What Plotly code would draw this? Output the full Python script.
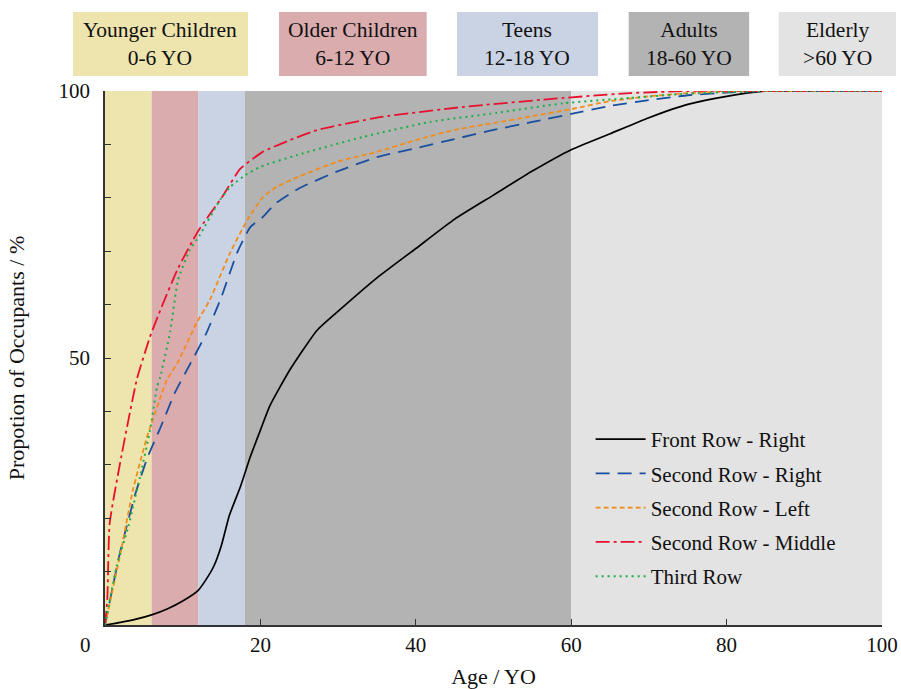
import plotly.graph_objects as go

# ---- data ----
age_front = [0, 2, 4, 6, 8, 10, 12, 13, 14, 15, 16, 17.4, 18.7, 20, 21.2, 23.8, 27.3, 30.2, 35, 40, 45, 50, 55, 60, 65, 70, 75, 80, 85, 90, 100]
val_front = [0, 0.5, 1.1, 1.9, 3, 4.5, 6.5, 8.5, 11, 15, 20.5, 25.8, 31.5, 36.5, 41, 47.8, 55.2, 59, 65, 70.5, 76, 80.5, 85, 89, 92, 95, 97.5, 99, 100, 100, 100]

age_2r = [0, 2, 4, 5.5, 7, 9, 11, 13, 15, 17, 18.7, 20.3, 22, 25, 30, 35, 40, 45, 50, 55, 60, 65, 70, 75, 80, 85, 90, 100]
val_2r = [0, 14, 25, 31.5, 36.5, 43.5, 49, 54.5, 61.5, 69.7, 74.5, 76.4, 79, 81.8, 85, 87.6, 89.3, 91, 92.7, 94.2, 95.7, 97.2, 98.3, 99.2, 99.7, 100, 100, 100]

age_2l = [0, 2, 3.6, 5.4, 6, 8, 9.3, 11.8, 13.5, 16.1, 18.3, 20.3, 22, 25, 30, 35, 40, 45, 50, 55, 60, 65, 70, 75, 80, 85, 90, 100]
val_2l = [0, 13.5, 25.3, 35.2, 37.8, 46, 49, 56.6, 60.9, 69.7, 75.8, 80.1, 82, 84, 86.8, 88.6, 90.8, 92.7, 94, 95.3, 96.6, 98.1, 99, 99.6, 99.9, 100, 100, 100]

age_2m = [0, 0.3, 0.6, 1.9, 4.1, 5.8, 7.3, 9.3, 12, 15, 17.4, 20.3, 23.8, 27.3, 35.4, 46, 59, 67.6, 75, 85, 100]
val_2m = [0, 5, 19, 30, 46, 54, 59.6, 66.5, 73.8, 80, 85.4, 88.6, 90.8, 92.7, 95.1, 97, 98.7, 99.6, 100, 100, 100]

age_3 = [0, 1.5, 3, 4.5, 5.8, 6.7, 7.1, 8.4, 9.4, 10.9, 12.2, 14.8, 16.1, 18, 20, 24.7, 33.2, 41.8, 50.4, 59, 67.6, 75, 85, 100]
val_3 = [0, 11, 18.4, 27.7, 36.5, 44.6, 46.4, 55, 64.6, 70.2, 73, 79.6, 82, 84.2, 85.8, 88, 91.4, 94.2, 95.9, 97.7, 98.7, 99.5, 100, 100]

series_names = ["Front Row - Right", "Second Row - Right", "Second Row - Left", "Second Row - Middle", "Third Row"]

band_starts = [0, 6, 12, 18, 60]
band_ends = [6, 12, 18, 60, 100]
band_titles = ["Younger Children", "Older Children", "Teens", "Adults", "Elderly"]
band_ranges = ["0-6 YO", "6-12 YO", "12-18 YO", "18-60 YO", ">60 YO"]
band_colors = ["#EEE4AE", "#DBACAE", "#CAD3E3", "#B3B3B3", "#E3E3E3"]

x_ticks = [0, 20, 40, 60, 80, 100]
y_ticks = [0, 10, 20, 30, 40, 50, 60, 70, 80, 90, 100]
y_labels = ["", "", "", "", "", "50", "", "", "", "", "100"]

FONT = "Liberation Serif"

# header-box placement (paper coords)
box_x0 = [-0.0412, 0.224, 0.453, 0.674, 0.867]
box_x1 = [0.184, 0.414, 0.6345, 0.829, 1.018]
box_y0, box_y1 = 1.028, 1.148

fig = go.Figure()

styles = [
    dict(color="#000000", dash="solid", width=1.7),
    dict(color="#1A4FA0", dash="14px,8px", width=1.8),
    dict(color="#F28C1B", dash="5px,3px", width=1.8),
    dict(color="#E8112D", dash="14px,4px,3px,4px", width=1.8),
    dict(color="#1BAF4A", dash="2px,4px", width=2),
]
data = [(age_front, val_front), (age_2r, val_2r), (age_2l, val_2l), (age_2m, val_2m), (age_3, val_3)]

for i, ((xs, ys), name, st) in enumerate(zip(data, series_names, styles)):
    fig.add_trace(go.Scatter(x=xs, y=ys, mode="lines", name=name, legendgroup=f"g{i}",
                             line=dict(shape="spline", smoothing=0.5, **st)))

shapes = []
for s, e, c in zip(band_starts, band_ends, band_colors):
    shapes.append(dict(type="rect", xref="x", yref="y", x0=s, x1=e, y0=0, y1=100,
                       fillcolor=c, line=dict(width=0), layer="below"))
annotations = []
for x0, x1, t, r, c in zip(box_x0, box_x1, band_titles, band_ranges, band_colors):
    shapes.append(dict(type="rect", xref="paper", yref="paper", x0=x0, x1=x1, y0=box_y0, y1=box_y1,
                       fillcolor=c, line=dict(width=0)))
    annotations.append(dict(xref="paper", yref="paper", x=(x0 + x1) / 2, y=(box_y0 + box_y1) / 2,
                            xanchor="center", yanchor="middle",
                            text=f"{t}<br>{r}", showarrow=False, align="center",
                            font=dict(family=FONT, size=21.5, color="#111111")))
annotations.append(dict(xref="paper", yref="paper", x=-0.0245, y=-0.037, xanchor="center", yanchor="middle",
                        text="0", showarrow=False, font=dict(family=FONT, size=21, color="#111111")))

fig.update_layout(
    width=901, height=689,
    margin=dict(l=105, r=19, t=91, b=64, autoexpand=False),
    paper_bgcolor="white", plot_bgcolor="white",
    font=dict(family=FONT, size=21, color="#111111"),
    shapes=shapes, annotations=annotations,
    showlegend=True,
    legend=dict(x=0.625, y=0.386, xanchor="left", yanchor="top", bgcolor="rgba(0,0,0,0)",
                font=dict(family=FONT, size=21, color="#111111"), tracegroupgap=4,
                itemwidth=50),
)
fig.update_xaxes(range=[0, 100], tickvals=x_ticks, ticktext=["" if v == 0 else str(v) for v in x_ticks],
                 ticks="inside", ticklen=6, tickcolor="#333333", showline=True, linecolor="#333333",
                 linewidth=1.5, showgrid=False, zeroline=False, automargin=False,
                 tickfont=dict(family=FONT, size=21),
                 title=dict(text="Age / YO", font=dict(family=FONT, size=22), standoff=25))
fig.update_yaxes(range=[0, 100], tickvals=y_ticks, ticktext=y_labels,
                 ticks="inside", ticklen=6, tickcolor="#333333", showline=True, linecolor="#333333",
                 linewidth=1.5, showgrid=False, zeroline=False, automargin=False,
                 tickfont=dict(family=FONT, size=21), ticklabelstandoff=9,
                 title=dict(text="Propotion of Occupants / %", font=dict(family=FONT, size=22), standoff=28))

# remove the page's default body margin so the figure fills the 901x689 window exactly
fig.write_html("out.html", config={"displayModeBar": False},
               post_script="document.body.style.margin='0';document.body.style.overflow='hidden';")
